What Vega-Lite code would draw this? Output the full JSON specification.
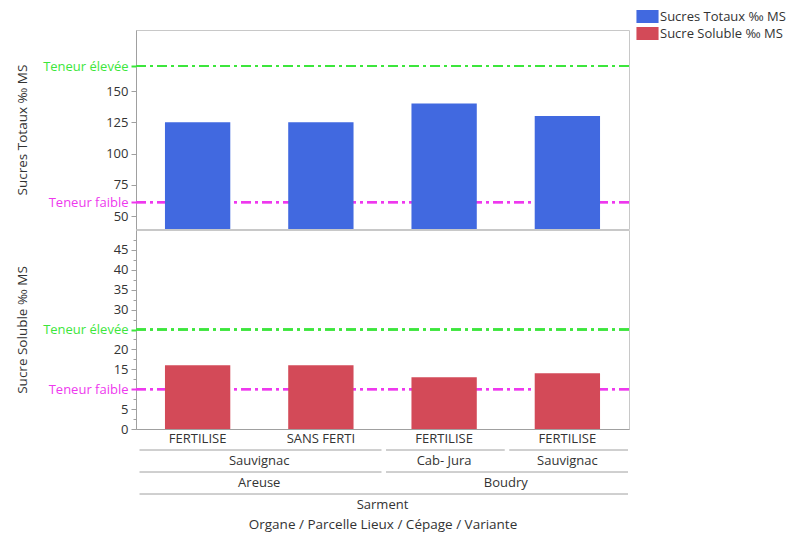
{
  "$schema": "https://vega.github.io/schema/vega-lite/v6.json",
  "padding": {"left": 15, "top": 10, "right": 5, "bottom": 5},
  "spacing": -1,
  "config": {
    "font": "Open Sans",
    "view": {"stroke": "#c8c8c8"},
    "axis": {
      "labelFont": "Open Sans", "labelFontSize": 13, "labelColor": "#333333",
      "titleFont": "Open Sans", "titleFontSize": 13.5, "titleFontWeight": "normal", "titleColor": "#333333",
      "domainColor": "#a0a0a0", "tickColor": "#a0a0a0", "grid": false
    },
    "legend": {"labelFont": "Open Sans", "labelFontSize": 13, "labelColor": "#333333"}
  },
  "datasets": {
    "bars": [
      {"key": "Sarment/Areuse/Sauvignac/FERTILISE", "measure": "Sucres Totaux ‰  MS", "value": 125},
      {"key": "Sarment/Areuse/Sauvignac/SANS FERTI", "measure": "Sucres Totaux ‰  MS", "value": 125},
      {"key": "Sarment/Boudry/Cab- Jura/FERTILISE", "measure": "Sucres Totaux ‰  MS", "value": 140},
      {"key": "Sarment/Boudry/Sauvignac/FERTILISE", "measure": "Sucres Totaux ‰  MS", "value": 130},
      {"key": "Sarment/Areuse/Sauvignac/FERTILISE", "measure": "Sucre Soluble ‰ MS", "value": 16},
      {"key": "Sarment/Areuse/Sauvignac/SANS FERTI", "measure": "Sucre Soluble ‰ MS", "value": 16},
      {"key": "Sarment/Boudry/Cab- Jura/FERTILISE", "measure": "Sucre Soluble ‰ MS", "value": 13},
      {"key": "Sarment/Boudry/Sauvignac/FERTILISE", "measure": "Sucre Soluble ‰ MS", "value": 14}
    ],
    "brackets": [
      {"level": 1, "start": 0, "end": 2, "mid": 1, "label": "Sauvignac"},
      {"level": 1, "start": 2, "end": 3, "mid": 2.5, "label": "Cab- Jura"},
      {"level": 1, "start": 3, "end": 4, "mid": 3.5, "label": "Sauvignac"},
      {"level": 2, "start": 0, "end": 2, "mid": 1, "label": "Areuse"},
      {"level": 2, "start": 2, "end": 4, "mid": 3, "label": "Boudry"},
      {"level": 3, "start": 0, "end": 4, "mid": 2, "label": "Sarment"}
    ]
  },
  "vconcat": [
    {
      "width": 493, "height": 199,
      "data": {"name": "bars"},
      "transform": [{"filter": "datum.measure == 'Sucres Totaux ‰  MS'"}],
      "encoding": {
        "y": {
          "type": "quantitative",
          "scale": {"domain": [39.6, 198.8], "nice": false, "zero": false},
          "axis": {
            "title": "Sucres Totaux ‰  MS",
            "values": [50, 61, 75, 100, 125, 150, 170],
            "labelExpr": "datum.value == 170 ? 'Teneur élevée' : datum.value == 61 ? 'Teneur faible' : datum.label",
            "labelOverlap": false,
            "labelColor": {"condition": [{"test": "datum.value == 170", "value": "#3CE63C"}, {"test": "datum.value == 61", "value": "#EE38EE"}], "value": "#333333"},
            "tickColor": {"condition": [{"test": "datum.value == 170", "value": "#3CE63C"}, {"test": "datum.value == 61", "value": "#EE38EE"}], "value": "#a0a0a0"},
            "tickWidth": {"condition": {"test": "datum.value == 170 || datum.value == 61", "value": 2}, "value": 1},
            "tickSize": 5, "labelPadding": 3, "titlePadding": 13
          }
        }
      },
      "layer": [
        {
          "mark": {"type": "rule", "color": "#EE38EE", "strokeWidth": 2, "strokeDash": [10, 4, 3, 4]},
          "encoding": {"y": {"datum": 61}}
        },
        {
          "mark": {"type": "rule", "color": "#3CE63C", "strokeWidth": 2, "strokeDash": [10, 4, 3, 4]},
          "encoding": {"y": {"datum": 170}}
        },
        {
          "mark": {"type": "bar", "clip": true},
          "encoding": {
            "x": {"field": "key", "type": "nominal", "sort": null, "scale": {"paddingInner": 0.47, "paddingOuter": 0.235}, "axis": null},
            "y": {"field": "value"},
            "color": {
              "field": "measure", "type": "nominal",
              "scale": {"domain": ["Sucres Totaux ‰  MS", "Sucre Soluble ‰ MS"], "range": ["#4169E0", "#D34A58"]},
              "legend": {"title": null, "orient": "none", "legendX": 505, "legendY": -20, "symbolType": "M-1.7,-1H1.7V1H-1.7Z", "symbolSize": 169, "symbolStrokeWidth": 0, "symbolOpacity": 1, "labelOffset": 6, "rowPadding": 3}
            }
          }
        }
      ]
    },
    {
      "width": 493, "height": 199,
      "data": {"name": "bars"},
      "transform": [{"filter": "datum.measure == 'Sucre Soluble ‰ MS'"}],
      "encoding": {
        "y": {
          "type": "quantitative",
          "scale": {"domain": [0, 50], "nice": false},
          "axis": {
            "title": "Sucre Soluble ‰ MS",
            "values": [0, 2.5, 5, 7.5, 10, 12.5, 15, 17.5, 20, 22.5, 25, 27.5, 30, 32.5, 35, 37.5, 40, 42.5, 45, 47.5],
            "labelExpr": "datum.value == 25 ? 'Teneur élevée' : datum.value == 10 ? 'Teneur faible' : (datum.value % 5 == 0 ? datum.label : '')",
            "labelOverlap": false,
            "labelColor": {"condition": [{"test": "datum.value == 25", "value": "#3CE63C"}, {"test": "datum.value == 10", "value": "#EE38EE"}], "value": "#333333"},
            "tickColor": {"condition": [{"test": "datum.value == 25", "value": "#3CE63C"}, {"test": "datum.value == 10", "value": "#EE38EE"}], "value": "#a0a0a0"},
            "tickWidth": {"condition": {"test": "datum.value == 25 || datum.value == 10", "value": 2}, "value": 1},
            "tickSize": {"condition": {"test": "datum.value % 5 != 0", "value": 3}, "value": 5},
            "labelPadding": 3, "titlePadding": 13
          }
        }
      },
      "layer": [
        {
          "mark": {"type": "rule", "color": "#EE38EE", "strokeWidth": 2, "strokeDash": [10, 4, 3, 4]},
          "encoding": {"y": {"datum": 10}}
        },
        {
          "mark": {"type": "rule", "color": "#3CE63C", "strokeWidth": 2, "strokeDash": [10, 4, 3, 4]},
          "encoding": {"y": {"datum": 25}}
        },
        {
          "mark": {"type": "bar"},
          "encoding": {
            "x": {
              "field": "key", "type": "nominal", "sort": null,
              "scale": {"paddingInner": 0.47, "paddingOuter": 0.235},
              "axis": {"title": null, "labelExpr": "split(datum.label, '/')[3]", "ticks": false, "labelAngle": 0, "labelPadding": 3}
            },
            "y": {"field": "value"},
            "color": {"field": "measure", "type": "nominal"}
          }
        }
      ]
    },
    {
      "width": 493, "height": 62,
      "view": {"stroke": null},
      "data": {"name": "brackets"},
      "encoding": {
        "x": {
          "type": "quantitative",
          "scale": {"domain": [0, 4], "nice": false},
          "axis": {"title": "Organe / Parcelle Lieux / Cépage / Variante", "labels": false, "ticks": false, "domain": false, "titlePadding": 9}
        },
        "y": {"field": "level", "type": "quantitative", "scale": {"domain": [0.818, 3.636], "reverse": true, "nice": false, "zero": false}, "axis": null}
      },
      "layer": [
        {
          "mark": {"type": "rule", "color": "#a0a0a0", "xOffset": 3.5, "x2Offset": -1},
          "encoding": {
            "x": {"field": "start"},
            "x2": {"field": "end"}
          }
        },
        {
          "mark": {"type": "text", "dy": 11, "fontSize": 13, "color": "#333333", "font": "Open Sans"},
          "encoding": {
            "x": {"field": "mid"},
            "text": {"field": "label"}
          }
        }
      ]
    }
  ]
}
